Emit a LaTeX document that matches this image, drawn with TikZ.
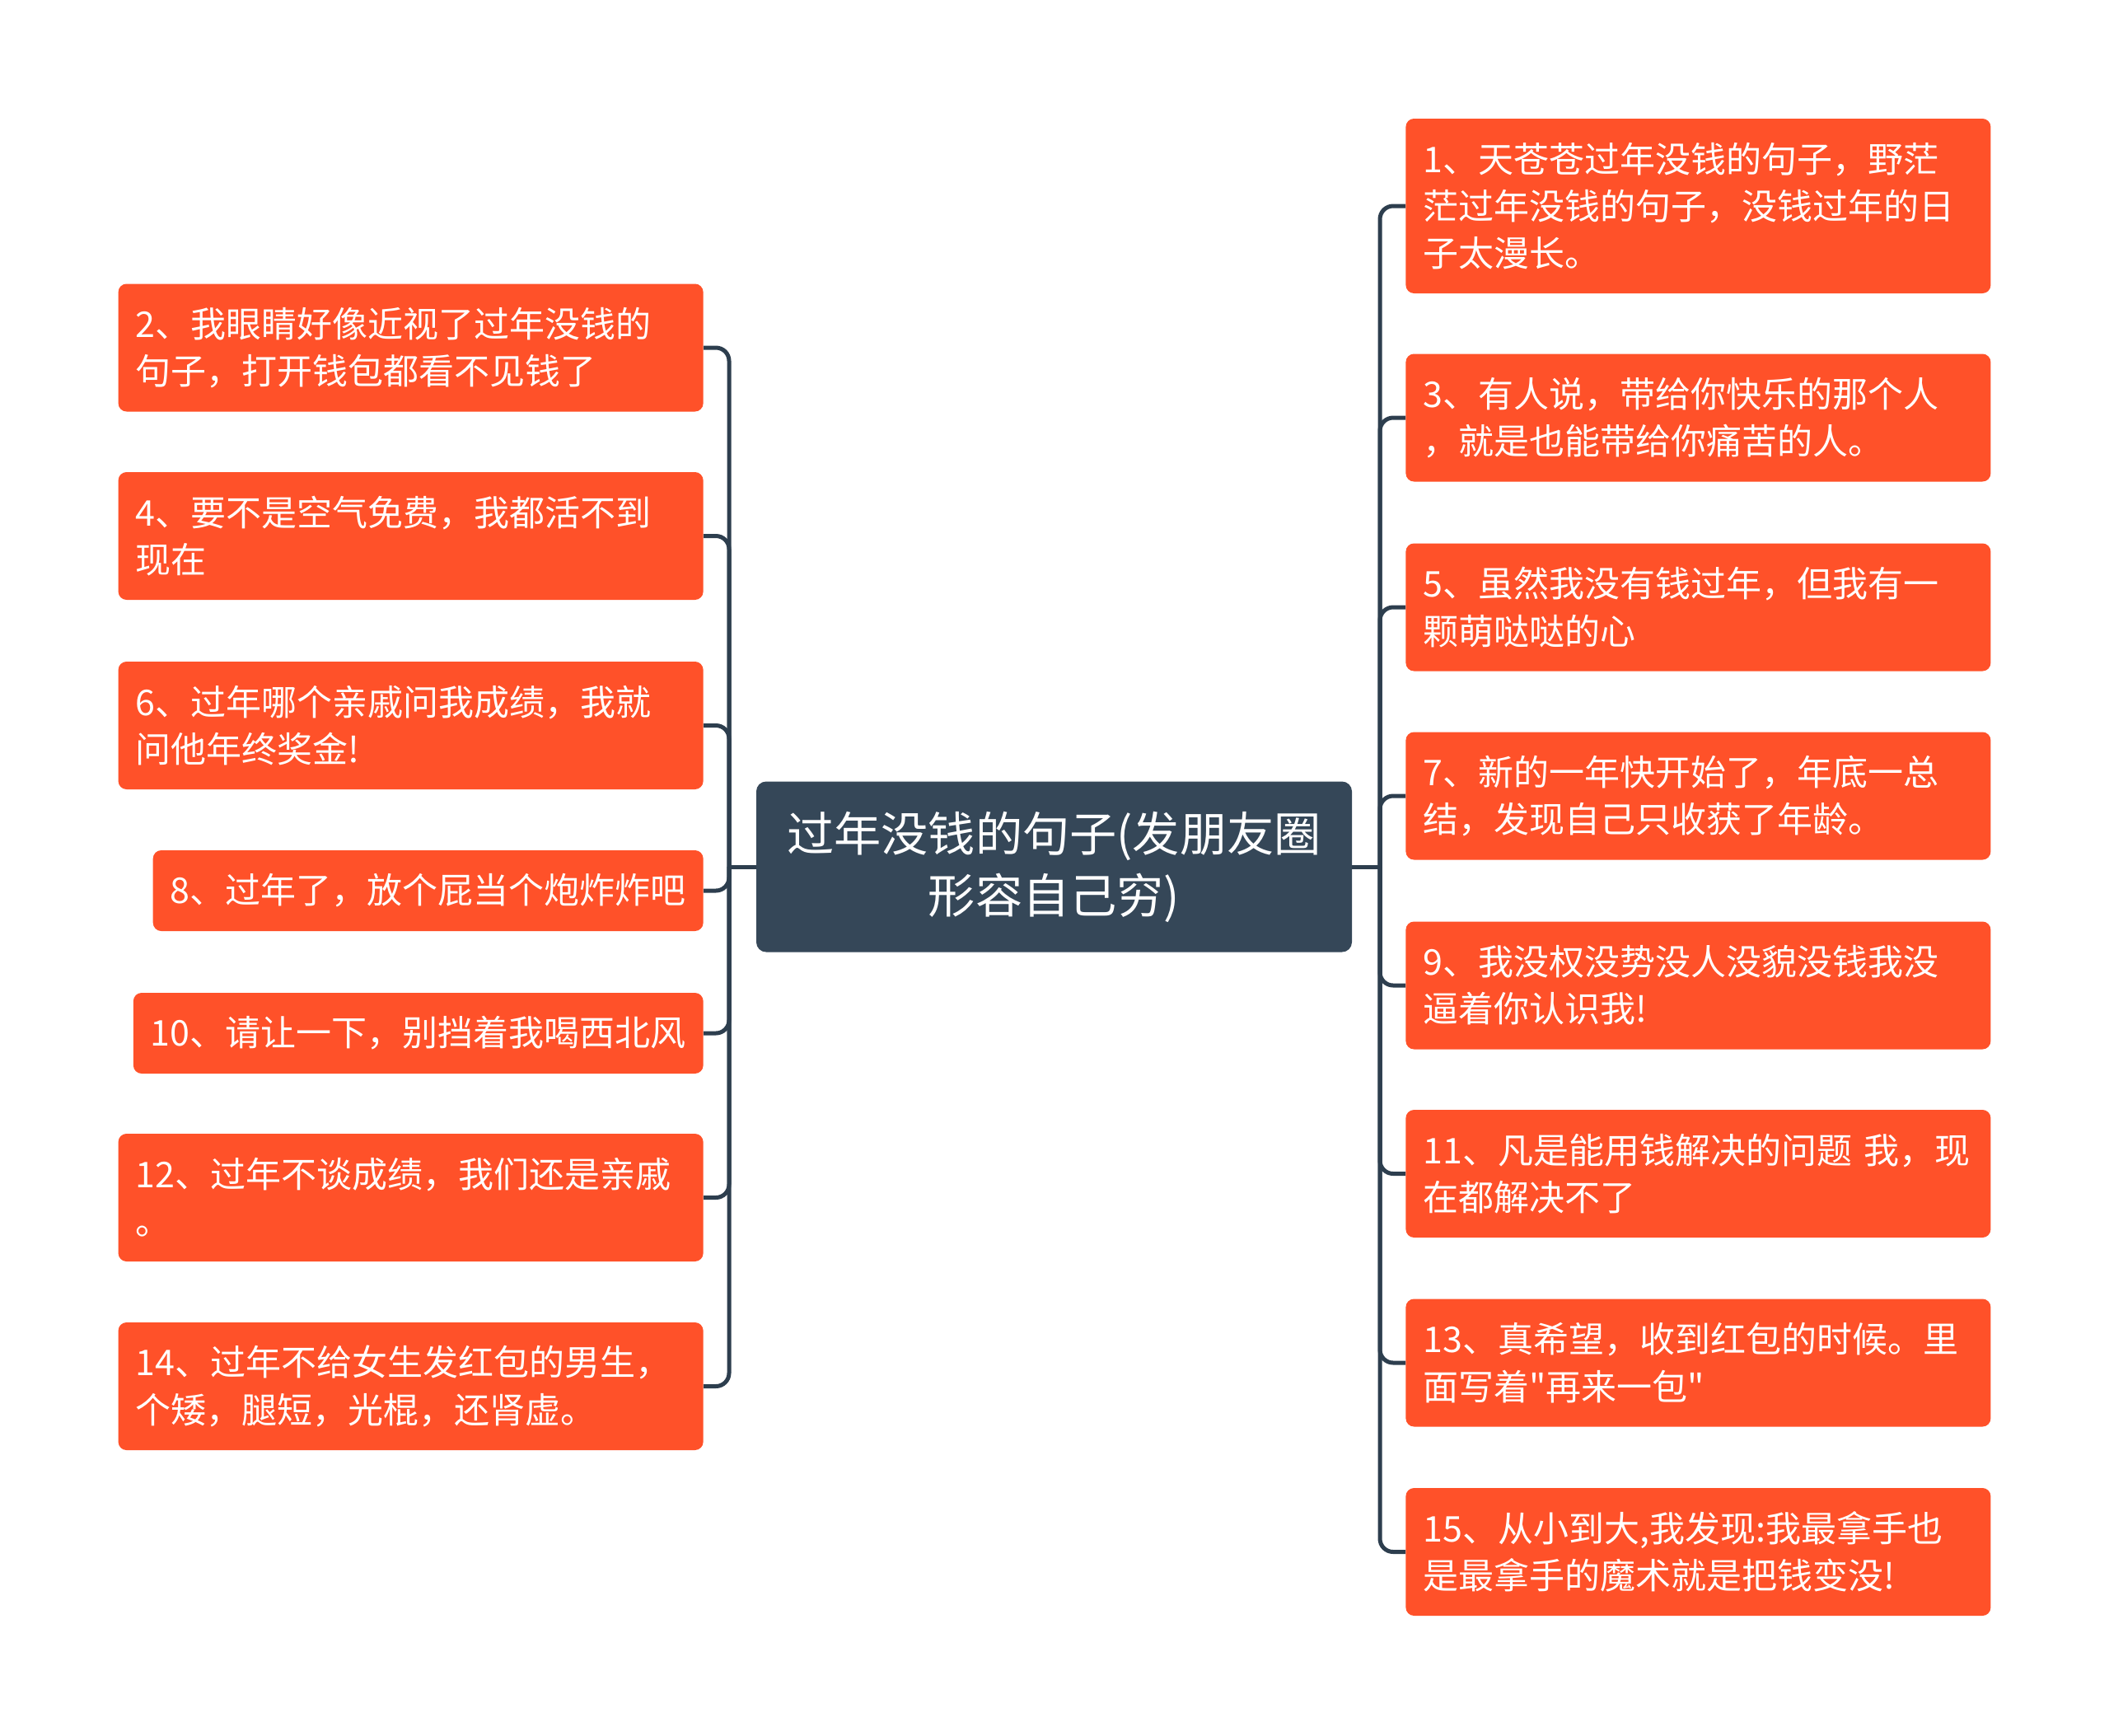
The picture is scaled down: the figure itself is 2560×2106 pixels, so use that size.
\documentclass[tikz,border=0pt]{standalone}
\usepackage{fontspec}
\setmainfont{Noto Sans CJK SC}[Ligatures=TeXOff]
\definecolor{leaffill}{HTML}{FF5129}
\definecolor{rootfill}{HTML}{354758}
\definecolor{linecol}{HTML}{2D3E4E}
\begin{document}
\begin{tikzpicture}[x=0.5pt,y=-0.5pt,
  leaf/.style={fill=leaffill, text=white, rounded corners=5pt, align=left,
    inner xsep=10.5pt, inner ysep=0pt, minimum height=77.5pt,
    font=\fontsize{21.5pt}{28.6pt}\selectfont},
  leafwide/.style={leaf, text width=334pt},
  leaftall/.style={leafwide, minimum height=106pt},
  root/.style={fill=rootfill, text=white, rounded corners=6pt, align=center,
    minimum width=361.5pt, minimum height=103.5pt, inner sep=0pt,
    font=\fontsize{28.6pt}{37.5pt}\selectfont},
  conn/.style={draw=linecol, line width=2.5pt, rounded corners=8pt}]
\useasboundingbox (0,0) rectangle (2560,2106);
\fill[white] (0,0) rectangle (2560,2106);

\node[root] (c) at (1279.5,1052) {过年没钱的句子(发朋友圈\\形容自己穷)};

% left
\node[leafwide, anchor=east] (n2) at (854,422) {2、我眼睛好像近视了过年没钱的\\句子，打开钱包都看不见钱了};
\node[leafwide, anchor=east] (n4) at (854,650.5) {4、要不是空气免费，我都活不到\\现在};
\node[leafwide, anchor=east] (n6) at (854,880.5) {6、过年哪个亲戚问我成绩，我就\\问他年终奖金!};
\node[leaf, anchor=east, minimum height=49pt] (n8) at (854,1081) {8、过年了，放个屁当个炮炸炸吧};
\node[leaf, anchor=east, minimum height=49pt] (n10) at (854,1254) {10、请让一下，别挡着我喝西北风};
\node[leafwide, anchor=east] (n12) at (854,1453.5) {12、过年不谈成绩，我们还是亲戚\\。};
\node[leafwide, anchor=east] (n14) at (854,1682.5) {14、过年不给女生发红包的男生，\\个矮，腿短，光棍，还肾虚。};

% right
\node[leaftall, anchor=west] (n1) at (1706,250) {1、天苍苍过年没钱的句子，野茫\\茫过年没钱的句子，没钱过年的日\\子太漫长。};
\node[leafwide, anchor=west] (n3) at (1706,507) {3、有人说，带给你快乐的那个人\\，就是也能带给你痛苦的人。};
\node[leafwide, anchor=west] (n5) at (1706,737) {5、虽然我没有钱过年，但我有一\\颗萌哒哒的心};
\node[leafwide, anchor=west] (n7) at (1706,966) {7、新的一年快开始了，年底一总\\结，发现自己只收获了年龄。};
\node[leafwide, anchor=west] (n9) at (1706,1196) {9、我没权没势没人没貌没钱我没\\逼着你认识我!};
\node[leafwide, anchor=west] (n11) at (1706,1424.5) {11、凡是能用钱解决的问题 我，现\\在都解决不了};
\node[leafwide, anchor=west] (n13) at (1706,1654) {13、真希望，收到红包的时候。里\\面写着"再来一包"};
\node[leafwide, anchor=west] (n15) at (1706,1883.5) {15、从小到大,我发现:我最拿手也\\是最拿手的魔术就是把钱变没!};

\coordinate (jl) at (885,1052);
\coordinate (jr) at (1675,1052);

\begin{scope}[on background layer/.try]
\draw[conn] (c.west) -- (jl);
\draw[conn] (c.east) -- (jr);
\foreach \n in {n2,n4,n6,n8,n10,n12,n14} \draw[conn] (jl) |- (\n.east);
\foreach \n in {n1,n3,n5,n7,n9,n11,n13,n15} \draw[conn] (jr) |- (\n.west);
\end{scope}
\end{tikzpicture}
\end{document}
